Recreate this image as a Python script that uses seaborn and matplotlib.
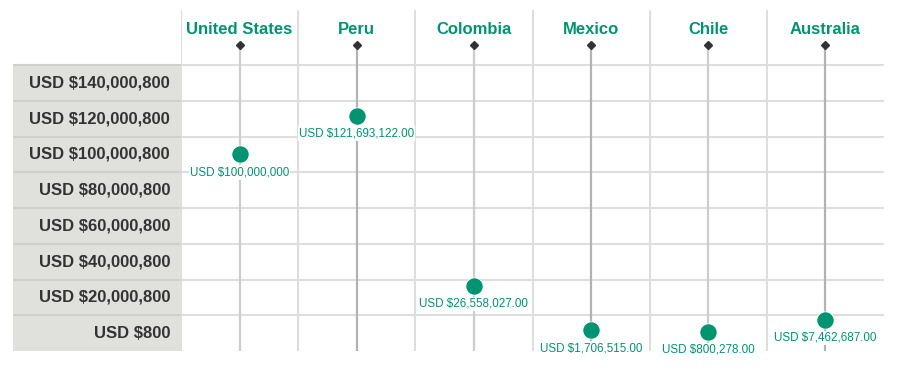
import numpy as np
import pandas as pd
import matplotlib
matplotlib.use("Agg")
import matplotlib.pyplot as plt
import seaborn as sns

sns.set_theme(style="white")
plt.rcParams['font.family'] = ['Liberation Sans', 'DejaVu Sans']

# data
countries = ['United States', 'Peru', 'Colombia', 'Mexico', 'Chile', 'Australia']
values = [100000000, 121693122.00, 26558027.00, 1706515.00, 800278.00, 7462687.00]
value_labels = ['USD $100,000,000', 'USD $121,693,122.00', 'USD $26,558,027.00',
                'USD $1,706,515.00', 'USD $800,278.00', 'USD $7,462,687.00']
row_values = [140000800, 120000800, 100000800, 80000800, 60000800, 40000800, 20000800, 800]
row_labels = ['USD $140,000,800', 'USD $120,000,800', 'USD $100,000,800', 'USD $80,000,800',
              'USD $60,000,800', 'USD $40,000,800', 'USD $20,000,800', 'USD $800']

GREEN = '#009470'
GRID = '#dedede'
step = 20000000

df = pd.DataFrame({'country': countries, 'value': values, 'label': value_labels})
df['pos'] = np.arange(len(df))

W, H = 900, 370
fig = plt.figure(figsize=(W / 100, H / 100), dpi=100)

# layout in pixels
x0, x1 = 181, 884
y_bot, y_top, y_head = 351, 10, 65
ax = fig.add_axes([x0 / W, (H - y_bot) / H, (x1 - x0) / W, (y_bot - y_top) / H])
axl = fig.add_axes([13 / W, (H - y_bot) / H, (x0 - 13) / W, (y_bot - y_top) / H])

lo = min(row_values) - step / 2
hi = max(row_values) + step / 2
px_per_row = (y_bot - y_head) / len(row_values)
top = hi + (y_head - y_top) / px_per_row * step
for a in (ax, axl):
    a.set_ylim(lo, top)
    a.axis('off')
ax.set_xlim(-0.5, len(countries) - 0.5)
axl.set_xlim(0, 1)

# left header column
axl.axhspan(lo, hi, color='#e0e0dc', zorder=0, lw=0)
boundaries = [v + step / 2 for v in row_values]
axl.hlines(boundaries, 0, 1, color='#cfcfcb', lw=1.5, zorder=1)
for v, lab in zip(row_values, row_labels):
    axl.text(0.935, v, lab, ha='right', va='center', fontsize=12,
             fontweight='bold', color='#333333')

# grid
ax.hlines(boundaries, -0.5, len(countries) - 0.5, color=GRID, lw=1.5, zorder=1)
ax.vlines(np.arange(len(countries)) - 0.5, lo, top, color=GRID, lw=1.5, zorder=1)

# stems, headers
trans = ax.get_xaxis_transform()
head_y = (y_bot - 45) / (y_bot - y_top)
name_y = (y_bot - 29) / (y_bot - y_top)
stem_colors = ['#cdcdcd', '#b3b3b3']
for i, c in enumerate(countries):
    ax.plot([i, i], [0, head_y], transform=trans, color=stem_colors[i % 2], lw=1.6, zorder=2)
    ax.plot([i], [head_y], transform=trans, marker='D', ms=4, color='#333333', zorder=3)
    ax.text(i, name_y, c, transform=trans, ha='center', va='center', fontsize=12,
            fontweight='bold', color=GREEN)

# dots
sns.scatterplot(data=df, x='pos', y='value', ax=ax, s=155, color=GREEN,
                edgecolor='white', linewidth=0.6, zorder=5, legend=False)
ax.axis('off')

for _, r in df.iterrows():
    ax.annotate(r['label'], (r['pos'], r['value']), xytext=(0, -13),
                textcoords='offset points', ha='center', va='center',
                fontsize=8.4, color=GREEN, zorder=6,
                bbox=dict(boxstyle='square,pad=0.1', fc='white', ec='none'))

fig.savefig('out.png', dpi=100)
